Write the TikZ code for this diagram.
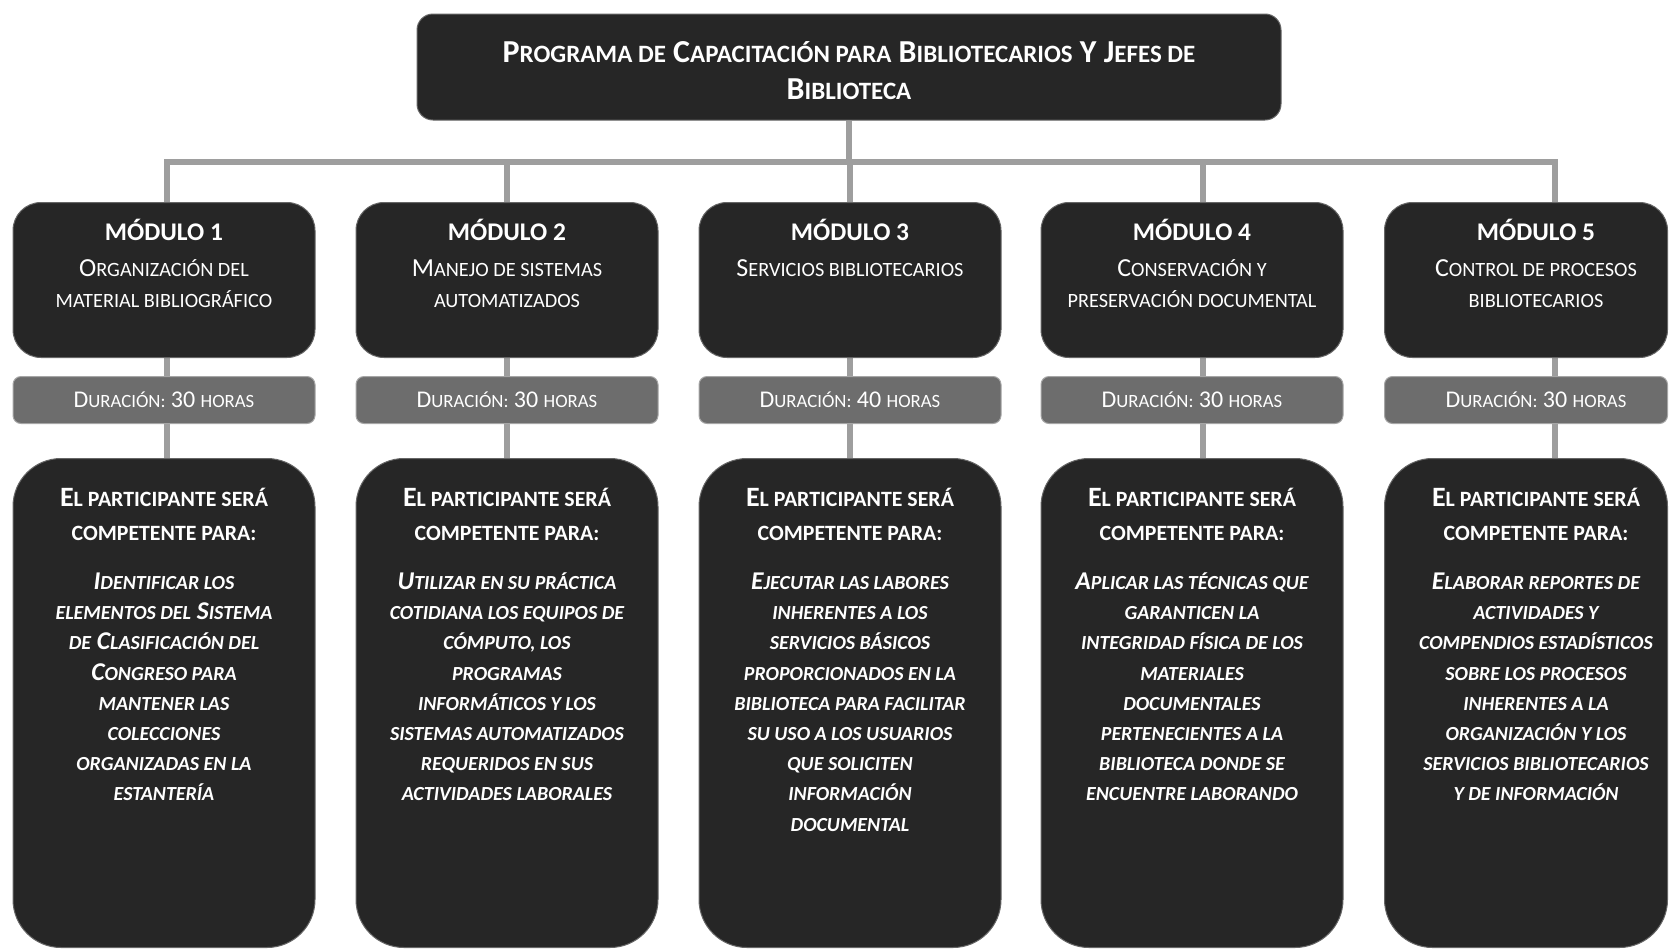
\documentclass[tikz,border=0pt]{standalone}
\usepackage{fontspec}
\setmainfont{Carlito}
\newfontfamily\scfont[Scale=0.78]{Carlito}
\newcommand\lc[1]{{\scfont\MakeUppercase{#1}}}
\usetikzlibrary{backgrounds}
\definecolor{boxdark}{HTML}{262626}
\definecolor{boxgray}{HTML}{6D6D6D}
\definecolor{linegray}{HTML}{9E9E9E}
\begin{document}
\begin{tikzpicture}[x=0.5pt,y=-0.5pt,
 darkbox/.style={draw=black!60,line width=0.5pt,fill=boxdark,inner sep=0pt},
 titlebox/.style={darkbox,rounded corners=8pt,minimum width=432pt,minimum height=53pt,text=white,align=center,font=\bfseries\fontsize{16}{18.5}\selectfont},
 modbox/.style={darkbox,rounded corners=14pt,minimum width=151pt,minimum height=77.5pt},
 compbox/.style={darkbox,rounded corners=24pt,minimum width=151pt,minimum height=244.5pt},
 hourbox/.style={draw=black!35,line width=0.5pt,fill=boxgray,rounded corners=4pt,minimum width=151pt,minimum height=23.5pt,inner sep=0pt,text=white,font=\fontsize{12}{14}\selectfont},
 link/.style={linegray,line width=3pt},
 modtitle/.style={text=white,inner sep=0pt,font=\bfseries\fontsize{12.7}{15}\selectfont},
 modname/.style={text=white,inner sep=0pt,align=center,font=\fontsize{13}{15.5}\selectfont},
 comphead/.style={text=white,inner sep=0pt,align=center,font=\bfseries\fontsize{14}{17}\selectfont},
 comptext/.style={text=white,inner sep=0pt,align=center,font=\bfseries\itshape\fontsize{12.8}{15.1}\selectfont}]
\useasboundingbox (0,0) rectangle (1669,948);
\clip (0,0) rectangle (1669,948);
\node[titlebox] (top) at (849,67) {\rule{0pt}{13.8pt}P\lc{rograma de} C\lc{apacitación para} B\lc{ibliotecarios} Y J\lc{efes de}\\ B\lc{iblioteca}};
\node[modbox,anchor=north] (m1) at (164,202) {};
\node[modbox,anchor=north] (m2) at (507,202) {};
\node[modbox,anchor=north] (m3) at (850,202) {};
\node[modbox,anchor=north] (m4) at (1192,202) {};
\node[modbox,anchor=north,minimum width=141.5pt] (m5) at (1526,202) {};
\node[hourbox,anchor=north] (h1) at (164,376) {D\lc{uración:} 30 \lc{horas}};
\node[hourbox,anchor=north] (h2) at (507,376) {D\lc{uración:} 30 \lc{horas}};
\node[hourbox,anchor=north] (h3) at (850,376) {D\lc{uración:} 40 \lc{horas}};
\node[hourbox,anchor=north] (h4) at (1192,376) {D\lc{uración:} 30 \lc{horas}};
\node[hourbox,anchor=north,minimum width=141.5pt] (h5) at (1526,376) {\hspace{10pt}D\lc{uración:} 30 \lc{horas}};
\node[compbox,anchor=north] (c1) at (164,458) {};
\node[compbox,anchor=north] (c2) at (507,458) {};
\node[compbox,anchor=north] (c3) at (850,458) {};
\node[compbox,anchor=north] (c4) at (1192,458) {};
\node[compbox,anchor=north,minimum width=141.5pt] (c5) at (1526,458) {};
\node[modtitle,anchor=base] (t1) at (164,240) {MÓDULO 1};
\node[modtitle,anchor=base] (t2) at (507,240) {MÓDULO 2};
\node[modtitle,anchor=base] (t3) at (850,240) {MÓDULO 3};
\node[modtitle,anchor=base] (t4) at (1192,240) {MÓDULO 4};
\node[modtitle,anchor=base] (t5) at (1536,240) {MÓDULO 5};
\node[modname,anchor=north] (n1) at (164,254) {\strut O\lc{rganización del}\\ \lc{material bibliográfico}};
\node[modname,anchor=north] (n2) at (507,254) {\strut M\lc{anejo de sistemas}\\ \lc{automatizados}};
\node[modname,anchor=north] (n3) at (850,254) {\strut S\lc{ervicios bibliotecarios}};
\node[modname,anchor=north] (n4) at (1192,254) {\strut C\lc{onservación y}\\ \lc{preservación documental}};
\node[modname,anchor=north] (n5) at (1536,254) {\strut C\lc{ontrol de procesos}\\ \lc{bibliotecarios}};
\node[comphead,anchor=north] (e1) at (164,482) {\strut E\lc{l participante será}\\ \lc{competente para:}};
\node[comphead,anchor=north] (e2) at (507,482) {\strut E\lc{l participante será}\\ \lc{competente para:}};
\node[comphead,anchor=north] (e3) at (850,482) {\strut E\lc{l participante será}\\ \lc{competente para:}};
\node[comphead,anchor=north] (e4) at (1192,482) {\strut E\lc{l participante será}\\ \lc{competente para:}};
\node[comphead,anchor=north] (e5) at (1536,482) {\strut E\lc{l participante será}\\ \lc{competente para:}};
\node[comptext,anchor=north] (p1) at (164,568) {\strut I\lc{dentificar los}\\ \lc{elementos del} S\lc{istema}\\ \lc{de} C\lc{lasificación del}\\ C\lc{ongreso para}\\ \lc{mantener las}\\ \lc{colecciones}\\ \lc{organizadas en la}\\ \lc{estantería}};
\node[comptext,anchor=north] (p2) at (507,568) {\strut U\lc{tilizar en su práctica}\\ \lc{cotidiana los equipos de}\\ \lc{cómputo, los}\\ \lc{programas}\\ \lc{informáticos y los}\\ \lc{sistemas automatizados}\\ \lc{requeridos en sus}\\ \lc{actividades laborales}};
\node[comptext,anchor=north] (p3) at (850,568) {\strut E\lc{jecutar las labores}\\ \lc{inherentes a los}\\ \lc{servicios básicos}\\ \lc{proporcionados en la}\\ \lc{biblioteca para facilitar}\\ \lc{su uso a los usuarios}\\ \lc{que soliciten}\\ \lc{información}\\ \lc{documental}};
\node[comptext,anchor=north] (p4) at (1192,568) {\strut A\lc{plicar las técnicas que}\\ \lc{garanticen la}\\ \lc{integridad física de los}\\ \lc{materiales}\\ \lc{documentales}\\ \lc{pertenecientes a la}\\ \lc{biblioteca donde se}\\ \lc{encuentre laborando}};
\node[comptext,anchor=north] (p5) at (1536,568) {\strut E\lc{laborar reportes de}\\ \lc{actividades y}\\ \lc{compendios estadísticos}\\ \lc{sobre los procesos}\\ \lc{inherentes a la}\\ \lc{organización y los}\\ \lc{servicios bibliotecarios}\\ \lc{y de información}};
\coordinate (d1) at (167,162);
\coordinate (d2) at (507,162);
\coordinate (d3) at (850,162);
\coordinate (d4) at (1203,162);
\coordinate (d5) at (1555,162);
\begin{pgfonlayer}{background}
\draw[link] (top.south) -- (top.south |- d3);
\draw[link] (d1 |- c1.north) -- (d1) -- (d5) -- (d5 |- c5.north);
\draw[link] (d2) -- (d2 |- c2.north);
\draw[link] (d3) -- (d3 |- c3.north);
\draw[link] (d4) -- (d4 |- c4.north);
\end{pgfonlayer}
\end{tikzpicture}
\end{document}
